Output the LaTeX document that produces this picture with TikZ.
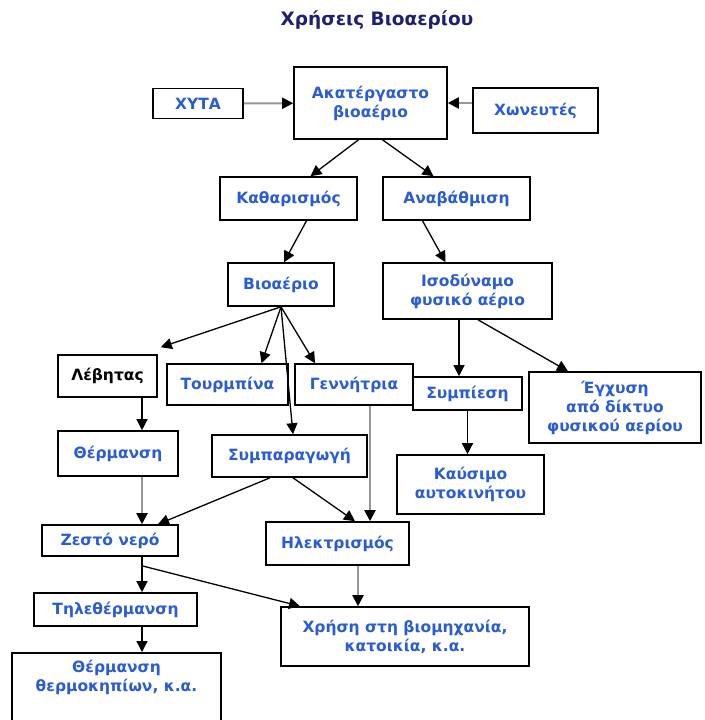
\documentclass[tikz,border=0pt]{standalone}
\usepackage{fontspec}
\setmainfont{DejaVu Sans}
\usetikzlibrary{arrows.meta}
\definecolor{boxblue}{RGB}{42,92,214}
\definecolor{titlenavy}{RGB}{32,32,112}
\definecolor{linegrey}{RGB}{150,150,150}
\tikzset{boxy/.style={draw,rectangle,line width=1.6pt,inner sep=0,align=center,
        text=boxblue,font=\fontsize{15.5}{19}\selectfont\bfseries},
    titletext/.style={text=titlenavy,font=\fontsize{18.5}{22}\selectfont\bfseries},
    flow/.style={line width=1.3pt,-{Triangle[length=11pt,width=11pt]}},
    greyflow/.style={line width=2pt,draw=linegrey,-{Triangle[length=11pt,width=11pt,color=black]}}
}

\begin{document}
\begin{tikzpicture}[x=1pt,y=-1pt]
\useasboundingbox (0,0) rectangle (704,720);

\node (title) at (377,20) [titletext] {Χρήσεις Βιοαερίου};

% raw gas and its sources
\node (landfill) at (198,103.5) [boxy,minimum width=90,minimum height=30] {ΧΥΤΑ};
\node (rawGas) at (370.5,103) [boxy,minimum width=153,minimum height=72] {Ακατέργαστο\\βιοαέριο};
\node (digesters) at (535.5,110.5) [boxy,minimum width=125,minimum height=45] {Χωνευτές};

\draw [greyflow] (landfill) -- (rawGas);
\draw [greyflow] (digesters.west |- rawGas.east) -- (rawGas.east);

% cleaning / upgrading
\node (cleaning) at (288.5,198.5) [boxy,minimum width=137,minimum height=43] {Καθαρισμός};
\node (upgrading) at (456.5,198.5) [boxy,minimum width=147,minimum height=43] {Αναβάθμιση};
\node (bioGas) at (281,284.5) [boxy,minimum width=106,minimum height=43] {Βιοαέριο};
\node (natGas) at (467.5,291) [boxy,minimum width=169,minimum height=56] {Ισοδύναμο\\φυσικό αέριο};

\draw [flow] ([xshift=-12pt]rawGas.south) -- ([xshift=22pt]cleaning.north);
\draw [flow] ([xshift=12pt]rawGas.south) -- ([xshift=-23pt]upgrading.north);
\draw [flow] ([xshift=18pt]cleaning.south) -- ([xshift=3pt]bioGas.north);
\draw [flow] ([xshift=-34pt]upgrading.south) -- ([xshift=-22pt]natGas.north);

% uses of biogas
\node (boiler) at (107.5,376) [boxy,minimum width=99,minimum height=42,text=black] {Λέβητας};
\node (turbine) at (227.5,384.5) [boxy,minimum width=121,minimum height=41] {Τουρμπίνα};
\node (generator) at (354,384.5) [boxy,minimum width=118,minimum height=41] {Γεννήτρια};
\node (heating) at (118,453.5) [boxy,minimum width=120,minimum height=45] {Θέρμανση};
\node (chp) at (289.5,456) [boxy,minimum width=155,minimum height=42] {Συμπαραγωγή};

\draw [flow] (bioGas.south) -- ([xshift=3pt,yshift=7pt]boiler.north east);
\draw [flow] (bioGas.south) -- ([xshift=34pt]turbine.north);
\draw [flow] (bioGas.south) -- ([xshift=-39pt]generator.north);
\draw [flow] (bioGas.south) -- ([xshift=3.5pt]chp.north);
\draw [flow] ([xshift=34.5pt]boiler.south) -- ([xshift=34.5pt]boiler.south |- heating.north);

% uses of natural gas
\node (compression) at (467.5,393.5) [boxy,minimum width=109,minimum height=33] {Συμπίεση};
\node (gridInject) at (615,407.5) [boxy,minimum width=172,minimum height=71] {Έγχυση\\από δίκτυο\\φυσικού αερίου};
\node (carFuel) at (470.5,484.5) [boxy,minimum width=147,minimum height=59] {Καύσιμο\\αυτοκινήτου};

\draw [flow] ([xshift=-8.5pt]natGas.south) -- ([xshift=-8.5pt]natGas.south |- compression.north);
\draw [flow] ([xshift=10.5pt]natGas.south) -- ([xshift=-47pt]gridInject.north);
\draw [flow] (compression.south) -- (compression.south |- carFuel.north);

% heat and power
\node (hotWater) at (110,540.5) [boxy,minimum width=136,minimum height=31] {Ζεστό νερό};
\node (power) at (337.5,543.5) [boxy,minimum width=143,minimum height=43] {Ηλεκτρισμός};
\node (distHeat) at (115.5,609.5) [boxy,minimum width=163,minimum height=33] {Τηλεθέρμανση};
\node (industry) at (405,636.5) [boxy,minimum width=248,minimum height=59] {Χρήση στη βιομηχανία,\\κατοικία, κ.α.};
\node (greenhouse) at (116.5,652) [boxy,anchor=north,minimum width=209,inner ysep=7pt] {Θέρμανση\\θερμοκηπίων, κ.α.\\[40pt]\mbox{}};

\draw [greyflow] ([xshift=16pt]generator.south) -- ([xshift=16pt]generator.south |- power.north);
\draw [greyflow] ([xshift=24pt]heating.south) -- ([xshift=24pt]heating.south |- hotWater.north);
\draw [flow] ([xshift=-19.5pt]chp.south) -- ([xshift=48pt]hotWater.north);
\draw [flow] ([xshift=3.5pt]chp.south) -- ([xshift=17.5pt]power.north);

\coordinate (split) at ([xshift=32pt,yshift=-9pt]hotWater.south);
\draw [flow] ([xshift=32pt]hotWater.south) -- ([xshift=32pt]hotWater.south |- distHeat.north);
\draw [flow] (split) -- ([xshift=-105pt]industry.north);
\draw [flow] ([xshift=26.5pt]distHeat.south) -- ([xshift=26.5pt]distHeat.south |- greenhouse.north);
\draw [greyflow] ([xshift=20.5pt]power.south) -- ([xshift=20.5pt]power.south |- industry.north);

\end{tikzpicture}
\end{document}
